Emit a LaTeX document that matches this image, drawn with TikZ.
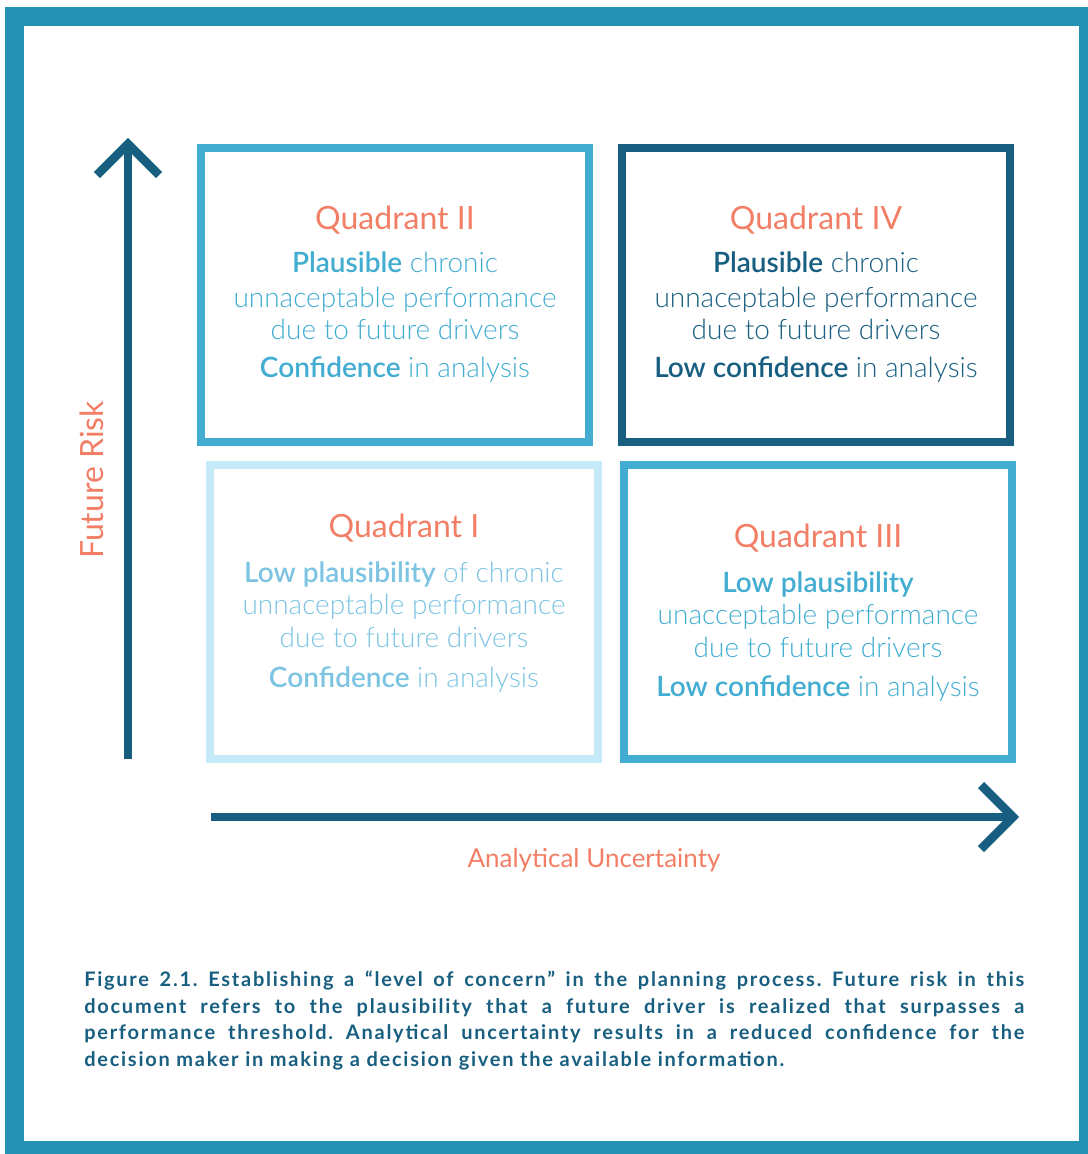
\documentclass[tikz,border=0pt]{standalone}
\usepackage{fontspec}
\setmainfont{Lato}[UprightFont={* Light}, BoldFont={* Semibold}]
\newfontfamily\regfont{Lato}
\newfontfamily\capfont{Lato}[LetterSpace=8.7, BoldFont={* Bold}]
\definecolor{frame}{HTML}{2592B3}
\definecolor{dark}{HTML}{175E80}
\definecolor{mid}{HTML}{42ADD1}
\definecolor{light}{HTML}{C6E9F8}
\definecolor{lighttext}{HTML}{7CC4E2}
\definecolor{orange}{HTML}{F27E66}
\tikzset{
  qbox/.style={draw, line width=6pt, inner sep=0pt, outer sep=0pt, minimum width=291pt, minimum height=220.5pt},
  qtitle/.style={anchor=base, text=orange, font=\regfont\fontsize{24}{28}\selectfont, inner sep=0pt},
  qline/.style={anchor=base, font=\fontsize{21}{24}\selectfont, inner sep=0pt},
  axis/.style={draw=dark, line width=6.4pt},
  chev/.style={draw=dark, line width=6.4pt, line join=miter},
  axlabel/.style={anchor=base, text=orange, inner sep=0pt},
  capline/.style={anchor=base west, text=dark, font=\capfont\bfseries\fontsize{15}{20}\selectfont\frenchspacing, inner sep=0pt}
}
\begin{document}
\begin{tikzpicture}[x=0.75pt,y=-0.75pt]
\useasboundingbox (0,0) rectangle (1088,1154);
\clip (0,0) rectangle (1088,1154);
\draw[draw=frame, line width=14.25pt] (14.5,16.5) rectangle (1088.5,1150.5);

% boxes
\node[qbox, draw=mid] (q2) at (395,295) {};
\node[qbox, draw=dark] (q4) at (815.5,295) {};
\node[qbox, draw=light] (q1) at (404,612) {};
\node[qbox, draw=mid] (q3) at (818,612) {};

% Quadrant II
\node[qtitle] (q2t) at (395,229) {Quadrant II};
\node[qline, text=mid] (q2a) at (395,272) {\textbf{Plausible} chronic};
\node[qline, text=mid] (q2b) at (395,307) {unnaceptable performance};
\node[qline, text=mid] (q2c) at (395,339) {due to future drivers};
\node[qline, text=mid] (q2d) at (395,377) {\textbf{Confidence} in analysis};

% Quadrant IV
\node[qtitle] (q4t) at (816,229) {Quadrant IV};
\node[qline, text=dark] (q4a) at (816,272) {\textbf{Plausible} chronic};
\node[qline, text=dark] (q4b) at (816,307) {unnaceptable performance};
\node[qline, text=dark] (q4c) at (816,339) {due to future drivers};
\node[qline, text=dark] (q4d) at (816,377) {\textbf{Low confidence} in analysis};

% Quadrant I
\node[qtitle] (q1t) at (404,537) {Quadrant I};
\node[qline, text=lighttext] (q1a) at (404,582) {\textbf{Low plausibility} of chronic};
\node[qline, text=lighttext] (q1b) at (404,614) {unnaceptable performance};
\node[qline, text=lighttext] (q1c) at (404,647) {due to future drivers};
\node[qline, text=lighttext] (q1d) at (404,687) {\textbf{Confidence} in analysis};

% Quadrant III
\node[qtitle] (q3t) at (818,547) {Quadrant III};
\node[qline, text=mid] (q3a) at (818,592) {\textbf{Low plausibility}};
\node[qline, text=mid] (q3b) at (818,624) {unacceptable performance};
\node[qline, text=mid] (q3c) at (818,657) {due to future drivers};
\node[qline, text=mid] (q3d) at (818,696) {\textbf{Low confidence} in analysis};

% axes
\coordinate (ybot) at (128,759);
\coordinate (ytop) at (128,144);
\draw[axis] (ybot) -- (ytop);
\draw[chev] ([shift={(-31,31)}]ytop) -- (ytop) -- ([shift={(31,31)}]ytop);
\coordinate (xl) at (211,817);
\coordinate (xr) at (1013,817);
\draw[axis] (xl) -- (xr);
\draw[chev] ([shift={(-32,-32)}]xr) -- (xr) -- ([shift={(-32,32)}]xr);

\node[axlabel, rotate=90, font=\regfont\fontsize{24}{28}\selectfont] (fr) at (103,480) {Future Risk};
\node[axlabel, font=\regfont\fontsize{19.5}{24}\selectfont] (au) at (594,867) {Analytical Uncertainty};

% caption
\node[capline] (c1) at (84,986) {\makebox[705pt][s]{Figure 2.1. Establishing a “level of concern” in the planning process. Future risk in this}};
\node[capline] (c2) at (84,1013) {\makebox[705pt][s]{document refers to the plausibility that a future driver is realized that surpasses a}};
\node[capline] (c3) at (84,1039) {\makebox[705pt][s]{performance threshold. Analytical uncertainty results in a reduced confidence for the}};
\node[capline] (c4) at (84,1066) {decision maker in making a decision given the available information.};
\end{tikzpicture}
\end{document}
